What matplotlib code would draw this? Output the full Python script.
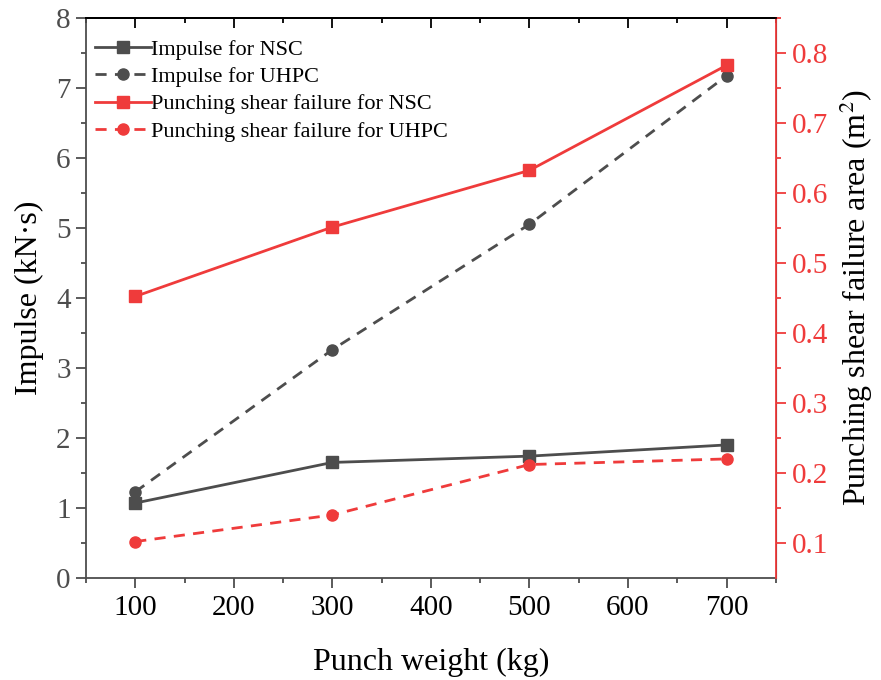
import matplotlib
matplotlib.use("Agg")
import matplotlib.pyplot as plt
from matplotlib.ticker import MultipleLocator

plt.rcParams['font.family'] = ['Liberation Serif', 'DejaVu Serif']
plt.rcParams['mathtext.fontset'] = 'stix'

# data
weight = [100, 300, 500, 700]
impulse_nsc = [1.07, 1.65, 1.74, 1.90]
impulse_uhpc = [1.23, 3.26, 5.05, 7.17]
area_nsc = [0.452, 0.551, 0.632, 0.782]
area_uhpc = [0.102, 0.140, 0.212, 0.220]

gray = "#4d4d4d"
red = "#ef3b3b"

fig = plt.figure(figsize=(8.81, 6.8), dpi=100)
ax = fig.add_axes([0.0976, 0.150, 0.783, 0.824])
ax2 = ax.twinx()

l1, = ax.plot(weight, impulse_nsc, color=gray, lw=2, marker="s", ms=8,
              label="Impulse for NSC")
l2, = ax.plot(weight, impulse_uhpc, color=gray, lw=2, ls=(0, (4, 3)), marker="o", ms=8,
              label="Impulse for UHPC")
l3, = ax2.plot(weight, area_nsc, color=red, lw=2, marker="s", ms=8,
               label="Punching shear failure for NSC")
l4, = ax2.plot(weight, area_uhpc, color=red, lw=2, ls=(0, (4, 3)), marker="o", ms=8,
               label="Punching shear failure for UHPC")

ax.set_xlim(50, 750)
ax.set_ylim(0, 8)
ax2.set_ylim(0.05, 0.85)

ax.xaxis.set_major_locator(MultipleLocator(100))
ax.xaxis.set_minor_locator(MultipleLocator(50))
ax.yaxis.set_major_locator(MultipleLocator(1))
ax.yaxis.set_minor_locator(MultipleLocator(0.5))
ax2.set_yticks([0.1, 0.2, 0.3, 0.4, 0.5, 0.6, 0.7, 0.8])
ax2.set_yticks([0.15, 0.25, 0.35, 0.45, 0.55, 0.65, 0.75, 0.85], minor=True)

ax.tick_params(axis="both", which="major", direction="out", length=7.5, width=1.3,
               labelsize=21, colors=gray, labelcolor=gray)
ax.tick_params(axis="both", which="minor", direction="out", length=3.5, width=1.3, colors=gray)
ax.tick_params(axis="x", labelcolor="black", pad=5)
ax2.tick_params(axis="y", which="major", direction="out", length=7.5, width=1.3,
                labelsize=21, colors=red, pad=4)
ax2.tick_params(axis="y", which="minor", direction="out", length=3.5, width=1.3, colors=red)

# inward ticks along the top edge
top = ax.secondary_xaxis("top")
top.xaxis.set_major_locator(MultipleLocator(100))
top.xaxis.set_minor_locator(MultipleLocator(50))
top.tick_params(which="major", direction="in", length=7.5, width=1.3, labeltop=False)
top.tick_params(which="minor", direction="in", length=3.5, width=1.3)
top.spines["top"].set_linewidth(1.3)

for s in ["left", "bottom"]:
    ax.spines[s].set_color(gray)
    ax.spines[s].set_linewidth(1.3)
ax2.spines["left"].set_visible(False)
ax2.spines["bottom"].set_visible(False)
ax2.spines["right"].set_color(red)
ax2.spines["right"].set_linewidth(1.3)
ax2.spines["top"].set_linewidth(1.3)
ax.spines["top"].set_linewidth(1.3)

ax.set_xlabel("Punch weight (kg)", fontsize=23, labelpad=19)
ax.set_ylabel("Impulse (kN·s)", fontsize=23, labelpad=9)
ax2.set_ylabel("Punching shear failure area (m$^2$)", fontsize=23, labelpad=7)

ax.legend(handles=[l1, l2, l3, l4], loc="upper left", frameon=False, fontsize=16,
          handlelength=2.5, handletextpad=0.0, labelspacing=0.3,
          borderaxespad=0.2, bbox_to_anchor=(-0.006, 0.985))

fig.savefig("out.png", dpi=100)
